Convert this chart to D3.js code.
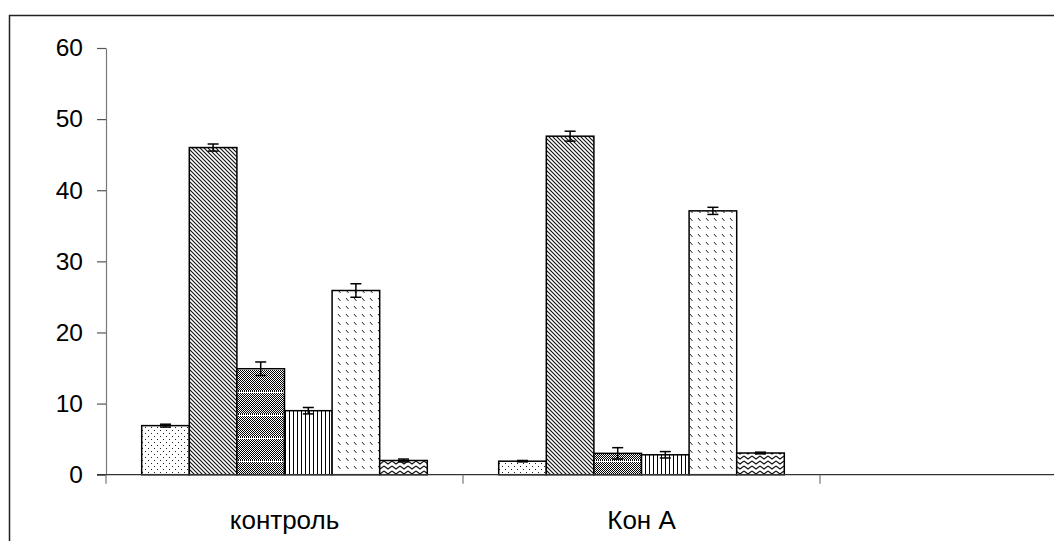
<!DOCTYPE html>
<html>
<head>
<meta charset="utf-8">
<script src="https://cdn.jsdelivr.net/npm/d3@7"></script>
<style>
  html, body { margin: 0; padding: 0; background: #fff; }
  svg { display: block; }
  text { font-family: "Liberation Sans", Arial, sans-serif; fill: #000; }
</style>
</head>
<body>
<svg id="chart" width="1054" height="541"></svg>
<script>
// Groups along the x axis (the third slot is left empty)
const categories = ["контроль", "Кон А", ""];
// Six series, one bar each per group: mean values
const series1 = [6.9, 1.9];
const series2 = [46.0, 47.6];
const series3 = [14.9, 3.0];
const series4 = [9.0, 2.8];
const series5 = [25.9, 37.1];
const series6 = [2.0, 3.05];
// Error half-widths for each series
const err1 = [0.2, 0.1];
const err2 = [0.5, 0.7];
const err3 = [0.95, 0.8];
const err4 = [0.45, 0.45];
const err5 = [0.95, 0.5];
const err6 = [0.2, 0.12];
const yTicks = [0, 10, 20, 30, 40, 50, 60];

const seriesValues = [series1, series2, series3, series4, series5, series6];
const seriesErrors = [err1, err2, err3, err4, err5, err6];
const fills = ["dots", "diag", "checker", "vlines", "dashes", "waves"];

const svg = d3.select("#chart");
const W = 1054, H = 541;

// ----- fill patterns -----
const defs = svg.append("defs");
function pat(id, w, h) {
  return defs.append("pattern").attr("id", id)
    .attr("patternUnits", "userSpaceOnUse")
    .attr("width", w).attr("height", h);
}
{
  const p = pat("dots", 6, 6);
  p.append("rect").attr("width", 6).attr("height", 6).attr("fill", "#fff");
  p.append("rect").attr("x", 1).attr("y", 1).attr("width", 1).attr("height", 1).attr("fill", "#222");
  p.append("rect").attr("x", 4).attr("y", 4).attr("width", 1).attr("height", 1).attr("fill", "#222");
}
{
  const p = pat("diag", 4, 4);
  p.append("rect").attr("width", 4).attr("height", 4).attr("fill", "#fff");
  p.append("path").attr("d", "M-1,-1L5,5M-1,3L1,5M3,-1L5,1")
    .attr("stroke", "#111").attr("stroke-width", 1.15);
}
{
  const p = pat("checker", 2, 23);
  p.append("rect").attr("width", 2).attr("height", 23).attr("fill", "#fff");
  for (let r = 0; r < 23; r++) {
    if (r === 1) continue;
    p.append("rect").attr("x", r % 2).attr("y", r).attr("width", 1).attr("height", 1).attr("fill", "#000");
  }
}
{
  const p = pat("vlines", 4, 4);
  p.append("rect").attr("width", 4).attr("height", 4).attr("fill", "#fff");
  p.append("rect").attr("x", 1).attr("width", 1).attr("height", 4).attr("fill", "#000");
}
{
  const p = pat("dashes", 8, 8);
  p.append("rect").attr("width", 8).attr("height", 8).attr("fill", "#fff");
  p.append("path").attr("d", "M2,2L4.5,5").attr("stroke", "#222").attr("stroke-width", 1);
}
{
  const p = pat("waves", 8, 5);
  p.append("rect").attr("width", 8).attr("height", 5).attr("fill", "#fff");
  p.append("path").attr("d", "M0,1L4,4L8,1").attr("fill", "none")
    .attr("stroke", "#111").attr("stroke-width", 1.1);
}

// ----- scales -----
const plotLeft = 106, plotBottom = 474.7, plotTop = 48;
const groupWidth = 357;
const x = d3.scaleBand().domain(categories)
  .range([plotLeft, plotLeft + groupWidth * categories.length])
  .paddingInner(0).paddingOuter(0);
const xs = d3.scaleBand().domain(d3.range(seriesValues.length))
  .range([0, x.bandwidth()]).paddingInner(0).paddingOuter(0.75);
const y = d3.scaleLinear().domain([0, 60]).range([plotBottom, plotTop]);

// outer frame
svg.append("rect").attr("x", 9.5).attr("y", 15.5)
  .attr("width", W + 20).attr("height", H + 20)
  .attr("fill", "none").attr("stroke", "#222").attr("stroke-width", 1.5);

// ----- bars -----
const bars = [];
seriesValues.forEach((vals, s) => {
  vals.forEach((v, c) => {
    bars.push({ s, c, v, e: seriesErrors[s][c] });
  });
});

const g = svg.append("g");
g.selectAll("rect.bar").data(bars).join("rect")
  .attr("class", "bar")
  .attr("x", d => x(categories[d.c]) + xs(d.s))
  .attr("y", d => y(d.v))
  .attr("width", xs.bandwidth())
  .attr("height", d => y(0) - y(d.v))
  .attr("fill", d => `url(#${fills[d.s]})`)
  .attr("stroke", "#000").attr("stroke-width", 1.5);

// error bars
const eb = g.selectAll("g.err").data(bars).join("g").attr("class", "err")
  .attr("transform", d => `translate(${x(categories[d.c]) + xs(d.s) + xs.bandwidth() / 2},0)`);
eb.append("line").attr("y1", d => y(d.v + d.e)).attr("y2", d => y(d.v - d.e))
  .attr("stroke", "#000").attr("stroke-width", 1.5);
eb.append("line").attr("x1", -5.5).attr("x2", 5.5)
  .attr("y1", d => y(d.v + d.e)).attr("y2", d => y(d.v + d.e))
  .attr("stroke", "#000").attr("stroke-width", 1.5);
eb.append("line").attr("x1", -5.5).attr("x2", 5.5)
  .attr("y1", d => y(d.v - d.e)).attr("y2", d => y(d.v - d.e))
  .attr("stroke", "#000").attr("stroke-width", 1.5);

// ----- y axis -----
const yAxis = svg.append("g").attr("transform", `translate(${plotLeft},0)`)
  .call(d3.axisLeft(y).tickValues(yTicks).tickSize(9).tickSizeOuter(0).tickPadding(14));
yAxis.select(".domain").attr("stroke", "#777").attr("stroke-width", 1.2);
yAxis.selectAll(".tick line").attr("stroke", "#555").attr("stroke-width", 1.2);
yAxis.selectAll(".tick text").style("font-size", "24.5px")
  .style("font-family", "'Liberation Sans', Arial, sans-serif").attr("fill", "#000");

// ----- x axis -----
const xg = svg.append("g");
xg.append("line").attr("x1", plotLeft - 9).attr("x2", x.range()[1])
  .attr("y1", plotBottom).attr("y2", plotBottom)
  .attr("stroke", "#333").attr("stroke-width", 1.2);
const bounds = categories.map(c => x(c)).concat([x.range()[1]]);
xg.selectAll("line.xt").data(bounds).join("line").attr("class", "xt")
  .attr("x1", d => d).attr("x2", d => d)
  .attr("y1", plotBottom).attr("y2", plotBottom + 9)
  .attr("stroke", "#777").attr("stroke-width", 1.2);
xg.selectAll("text").data(categories).join("text")
  .attr("x", d => x(d) + x.bandwidth() / 2)
  .attr("y", 529)
  .attr("text-anchor", "middle")
  .style("font-size", "26px")
  .text(d => d);
</script>
</body>
</html>
